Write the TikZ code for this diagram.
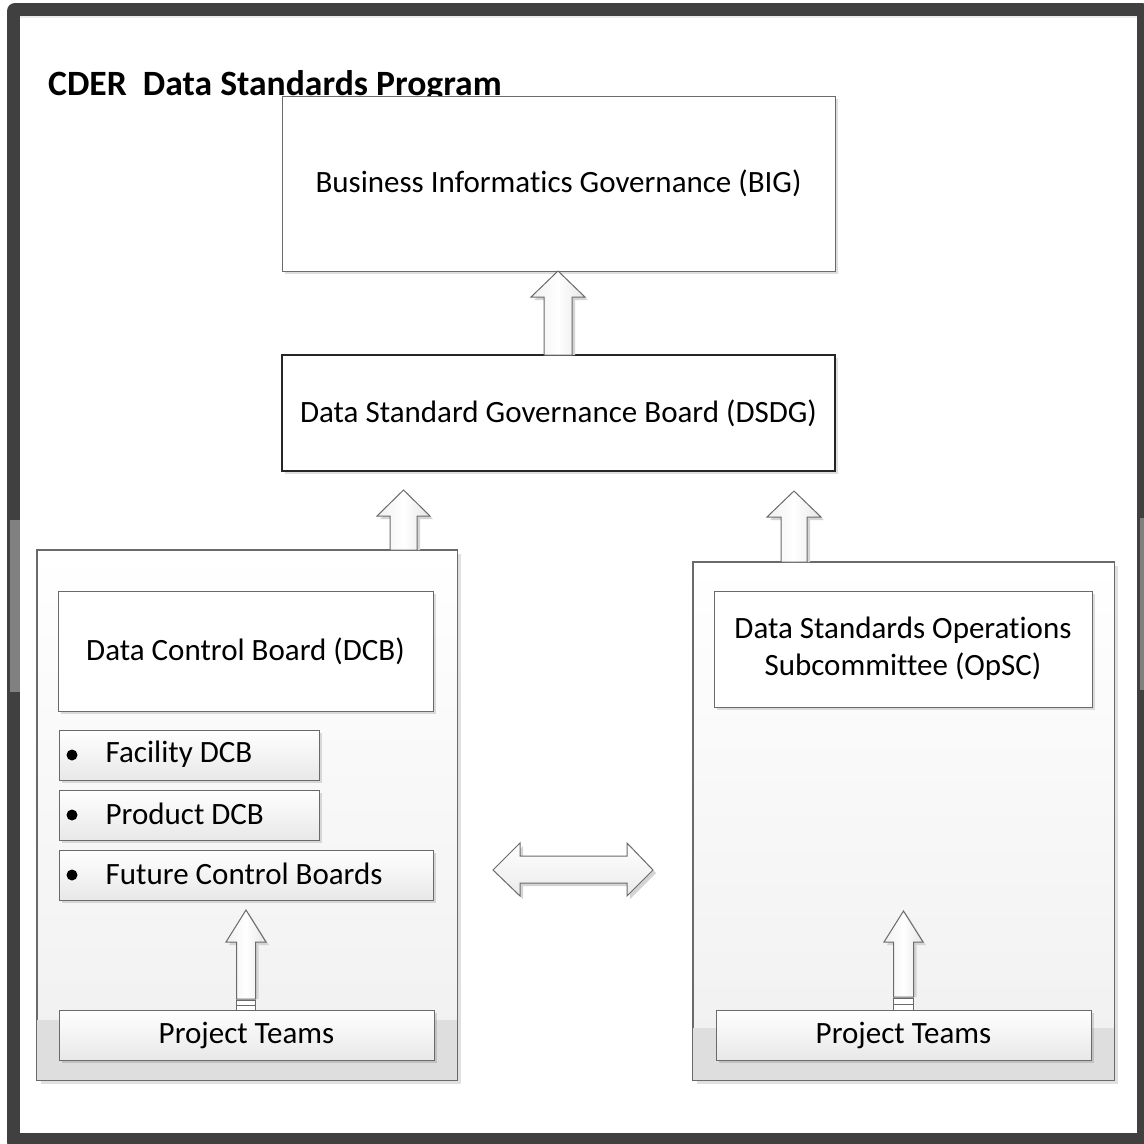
\documentclass[tikz,border=0pt]{standalone}
\usepackage{fontspec}
\setmainfont{Carlito}[Ligatures=CommonOff]
\usetikzlibrary{calc,shadows}
\definecolor{framec}{HTML}{404040}
\definecolor{scrollc}{HTML}{808080}
\definecolor{linec}{HTML}{6A6A6A}
\definecolor{bandc}{HTML}{DEDEDE}
\definecolor{shadc}{HTML}{D4D4D4}
\newcommand{\blkup}[6]{% xc, ybottom, ytip, halfshaft, halfhead, yheadbase
  \fill[shadc] ({#1-#4+3},{#2}) -- ({#1-#4+3},{#6+3}) -- ({#1-#5+3},{#6+3}) -- ({#1+3},{#3+3}) -- ({#1+#5+3},{#6+3}) -- ({#1+#4+3},{#6+3}) -- ({#1+#4+3},{#2}) -- cycle;
  \draw[blk] ({#1-#4},{#2}) -- ({#1-#4},{#6}) -- ({#1-#5},{#6}) -- ({#1},{#3}) -- ({#1+#5},{#6}) -- ({#1+#4},{#6}) -- ({#1+#4},{#2}) -- cycle;}
\begin{document}
\begin{tikzpicture}[x=1pt,y=-1pt,
  txt/.style={font=\fontsize{31}{37}\selectfont},
  box/.style={draw=linec, line width=1pt, inner sep=0pt, txt,
     drop shadow={shadow xshift=3pt, shadow yshift=-3pt, fill=black, opacity=0.13}},
  wbox/.style={box, fill=white},
  gbox/.style={box, top color=white, bottom color=black!9},
  cont/.style={draw=linec, line width=1pt, inner sep=0pt, top color=white, bottom color=black!6,
     drop shadow={shadow xshift=4pt, shadow yshift=-4pt, fill=black, opacity=0.12}},
  blk/.style={draw=linec, line width=1pt, left color=black!6, right color=black!10, middle color=white, line join=miter},
]
\useasboundingbox (0,0) rectangle (1144,1144);
% frame
\fill[framec, rounded corners=8pt] (7,3) rectangle (1150,1150);
\fill[white] (20,16) rectangle (1137,1133);
\fill[black!8] (20,16) rectangle (1137,18);
\fill[scrollc] (10,520) rectangle (20,692);
\fill[scrollc] (1140,518) rectangle (1144,690);

% title
\node[anchor=base west, inner sep=0pt, font=\fontsize{35.6}{42}\selectfont\bfseries] (title) at (48,95) {CDER\ \ Data Standards Program};

% top boxes
\node[wbox, minimum width=553pt, minimum height=175pt] (big) at (558.5,183.5) {Business Informatics Governance (BIG)};
\node[wbox, draw=black!85, line width=2pt, minimum width=553pt, minimum height=116pt] (dsdg) at (558.5,413) {Data Standard Governance Board (DSDG)};

% containers
\node[cont, minimum width=420pt, minimum height=530pt] (lc) at (247,815) {};
\fill[bandc] ($(lc.south west)+(0.5,-0.5)$) rectangle ($(lc.south east)+(-0.5,-61)$);
\draw[linec, line width=1pt] (lc.south west) rectangle (lc.north east);
\node[cont, minimum width=421pt, minimum height=518pt] (rc) at (903.5,821) {};
\fill[bandc] ($(rc.south west)+(0.5,-0.5)$) rectangle ($(rc.south east)+(-0.5,-53)$);
\draw[linec, line width=1pt] (rc.south west) rectangle (rc.north east);

% arrows between levels
\blkup{558}{355}{271}{14}{27}{297}
\blkup{403.5}{550}{490}{13.5}{26.5}{516}
\blkup{794}{562}{491}{13}{27}{517}

% left container content
\node[wbox, minimum width=375pt, minimum height=120pt] (dcb) at (245.5,651) {Data Control Board (DCB)};
\node[gbox, minimum width=260pt, minimum height=50pt] (fac) at (189,755) {};
\node[gbox, minimum width=260pt, minimum height=50pt] (prod) at (189,815) {};
\node[gbox, minimum width=374pt, minimum height=50pt] (fut) at (246,875) {};
\foreach \n/\t in {fac/Facility DCB, prod/Product DCB, fut/Future Control Boards}{
  \fill ($(\n.west)+(13.5,0)$) circle (5.5pt);
  \node[txt, anchor=west, inner sep=0pt] at ($(\n.west)+(47,-1)$) {\t};
}
\node[gbox, minimum width=375pt, minimum height=50pt] (ptl) at (246.5,1035) {Project Teams};

% right container content
\node[wbox, minimum width=378pt, minimum height=116pt, align=center] (opsc) at (903,649) {Data Standards Operations\\Subcommittee (OpSC)};
\node[gbox, minimum width=375pt, minimum height=50pt] (ptr) at (903.5,1035) {Project Teams};

% project team arrows with striped tails
\blkup{246}{999}{910}{9.5}{20}{942}
\draw[linec, fill=white] (236.5,1000) rectangle (255.5,1005);
\draw[linec, fill=white] (236.5,1005) rectangle (255.5,1010);
\blkup{903.5}{997}{911}{10}{19.5}{942}
\draw[linec, fill=white] (893.5,998) rectangle (913.5,1004);
\draw[linec, fill=white] (893.5,1004) rectangle (913.5,1010);

% double arrow
\fill[shadc] (496,873) -- (523,846) -- (523,859) -- (630,859) -- (630,846) -- (656,873) -- (630,899) -- (630,886) -- (523,886) -- (523,899) -- cycle;
\draw[linec, line width=1pt, top color=white, bottom color=black!8] (493,870) -- (520,843) -- (520,856) -- (627,856) -- (627,843) -- (653,870) -- (627,896) -- (627,883) -- (520,883) -- (520,896) -- cycle;
\end{tikzpicture}
\end{document}
